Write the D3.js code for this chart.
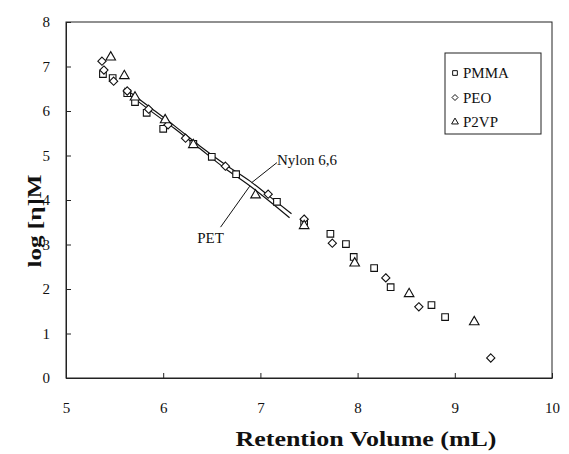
<!DOCTYPE html>
<html>
<head>
<meta charset="utf-8">
<script src="https://cdn.jsdelivr.net/npm/d3@7/dist/d3.min.js"></script>
<style>
  html, body { margin: 0; padding: 0; background: #fff; }
  svg { display: block; }
  svg text { font-family: "Liberation Serif", "Times New Roman", Times, "DejaVu Serif", serif; fill: #111; }
</style>
</head>
<body>
<svg id="chart" width="569" height="454"></svg>
<script>
// Universal calibration: log [η]M versus retention volume
const xTicks = [5, 6, 7, 8, 9, 10];
const yTicks = [0, 1, 2, 3, 4, 5, 6, 7, 8];

// PMMA standards (squares)
const pmmaX = [5.38, 5.48, 5.63, 5.71, 5.83, 6.00, 6.31, 6.50, 6.75, 7.17, 7.45, 7.72, 7.88, 7.96, 8.17, 8.34, 8.76, 8.90];
const pmmaY = [6.83, 6.74, 6.40, 6.20, 5.96, 5.60, 5.26, 4.97, 4.58, 3.96, 3.51, 3.24, 3.01, 2.72, 2.47, 2.04, 1.64, 1.37];

// PEO standards (diamonds)
const peoX = [5.37, 5.39, 5.49, 5.63, 5.85, 6.05, 6.23, 6.64, 7.08, 7.45, 7.74, 8.29, 8.63, 9.37];
const peoY = [7.12, 6.92, 6.67, 6.45, 6.04, 5.69, 5.39, 4.76, 4.13, 3.57, 3.03, 2.25, 1.60, 0.45];

// P2VP standards (triangles)
const p2vpX = [5.46, 5.60, 5.71, 6.02, 6.31, 6.95, 7.45, 7.97, 8.53, 9.20];
const p2vpY = [7.21, 6.79, 6.31, 5.80, 5.24, 4.11, 3.42, 2.58, 1.89, 1.26];

// Calibration curves for the two samples
const nylonX = [5.60, 5.86, 6.12, 6.38, 6.63, 6.89, 7.10, 7.32];
const nylonY = [6.52, 6.09, 5.66, 5.21, 4.81, 4.43, 4.07, 3.69];
const petX = [5.60, 5.86, 6.12, 6.38, 6.63, 6.89, 7.10, 7.30];
const petY = [6.45, 6.02, 5.60, 5.15, 4.72, 4.32, 3.96, 3.60];

// Curve labels with their leader lines (data units)
const curveLabels = ["Nylon 6,6", "PET"];
const labelX = [7.17, 6.35];
const labelY = [4.79, 3.03];
const leaderX1 = [7.17, 6.59];
const leaderY1 = [4.84, 3.39];
const leaderX2 = [6.91, 6.89];
const leaderY2 = [4.39, 4.31];

const seriesNames = ["PMMA", "PEO", "P2VP"];

const SERIF = "'Liberation Serif', 'Times New Roman', Times, 'DejaVu Serif', serif";
const svg = d3.select("#chart");
const m = { left: 66, right: 17, top: 22, bottom: 76 };
const W = 569, H = 454;

const x = d3.scaleLinear().domain([5, 10]).range([m.left, W - m.right]);
const y = d3.scaleLinear().domain([0, 8]).range([H - m.bottom, m.top]);

// axis titles (drawn first so tick labels sit on top)
svg.append("text")
  .attr("x", 366).attr("y", 446)
  .attr("text-anchor", "middle")
  .attr("font-family", SERIF)
  .attr("font-weight", "bold").attr("font-size", 20)
  .attr("textLength", 261).attr("lengthAdjust", "spacingAndGlyphs")
  .text("Retention Volume (mL)");
svg.append("text")
  .attr("transform", "translate(41,221) rotate(-90)")
  .attr("text-anchor", "middle")
  .attr("font-family", SERIF)
  .attr("font-weight", "bold").attr("font-size", 18)
  .attr("textLength", 93).attr("lengthAdjust", "spacingAndGlyphs")
  .text("log [η]M");

// frame
svg.append("rect")
  .attr("x", x(5)).attr("y", y(8))
  .attr("width", x(10) - x(5)).attr("height", y(0) - y(8))
  .attr("fill", "none").attr("stroke", "#222").attr("stroke-width", 1);

// axes with inward ticks
const gx = svg.append("g").attr("transform", `translate(0,${y(0)})`)
  .call(d3.axisBottom(x).tickValues(xTicks).tickSizeInner(-5).tickSizeOuter(0).tickPadding(24).tickFormat(d3.format("d")));
const gy = svg.append("g").attr("transform", `translate(${x(5)},0)`)
  .call(d3.axisLeft(y).tickValues(yTicks).tickSizeInner(-5).tickSizeOuter(0).tickPadding(16).tickFormat(d3.format("d")));
[gx, gy].forEach(g => {
  g.attr("font-family", SERIF).attr("font-size", 15);
  g.select(".domain").attr("stroke", "#222");
  g.selectAll(".tick line").attr("stroke", "#222");
  g.selectAll("text").attr("fill", "#111");
});

// calibration curves
const line = d3.line().x(d => x(d[0])).y(d => y(d[1])).curve(d3.curveMonotoneX);
[[nylonX, nylonY], [petX, petY]].forEach(([xs, ys]) => {
  svg.append("path")
    .datum(xs.map((v, i) => [v, ys[i]]))
    .attr("d", line)
    .attr("fill", "none").attr("stroke", "#111").attr("stroke-width", 1.2);
});

// leader lines and labels
curveLabels.forEach((t, i) => {
  svg.append("line")
    .attr("x1", x(leaderX1[i])).attr("y1", y(leaderY1[i]))
    .attr("x2", x(leaderX2[i])).attr("y2", y(leaderY2[i]))
    .attr("stroke", "#111").attr("stroke-width", 1);
  svg.append("text")
    .attr("x", x(labelX[i])).attr("y", y(labelY[i]))
    .attr("font-family", SERIF)
    .attr("font-size", 15)
    .text(t);
});

// square rotated 45°, as an open diamond
const wideDiamond = {
  draw(ctx, size) {
    const r = Math.sqrt(size / 2);
    ctx.moveTo(0, -r); ctx.lineTo(r, 0); ctx.lineTo(0, r); ctx.lineTo(-r, 0); ctx.closePath();
  }
};

// markers
const sym = {
  PMMA: d3.symbol().type(d3.symbolSquare).size(44),
  PEO: d3.symbol().type(wideDiamond).size(34),
  P2VP: d3.symbol().type(d3.symbolTriangle).size(40)
};
const sets = [["PMMA", pmmaX, pmmaY], ["PEO", peoX, peoY], ["P2VP", p2vpX, p2vpY]];
sets.forEach(([name, xs, ys]) => {
  svg.append("g").selectAll("path")
    .data(xs.map((v, i) => [v, ys[i]]))
    .join("path")
    .attr("transform", d => `translate(${x(d[0])},${y(d[1])})`)
    .attr("d", sym[name])
    .attr("fill", "#fff").attr("stroke", "#111").attr("stroke-width", 1.1);
});

// legend
const lg = svg.append("g").attr("transform", "translate(445,53)");
lg.append("rect").attr("width", 96).attr("height", 81)
  .attr("fill", "#fff").attr("stroke", "#222").attr("stroke-width", 1);
const lsym = {
  PMMA: d3.symbol().type(d3.symbolSquare).size(22),
  PEO: d3.symbol().type(wideDiamond).size(18),
  P2VP: d3.symbol().type(d3.symbolTriangle).size(20)
};
seriesNames.forEach((n, i) => {
  const cy = 20 + i * 24.5;
  lg.append("path").attr("transform", `translate(10,${cy})`)
    .attr("d", lsym[n]).attr("fill", "#fff").attr("stroke", "#111").attr("stroke-width", 1);
  lg.append("text").attr("x", 18).attr("y", cy + 5)
    .attr("font-family", SERIF).attr("font-size", 15).text(n);
});
</script>
</body>
</html>
